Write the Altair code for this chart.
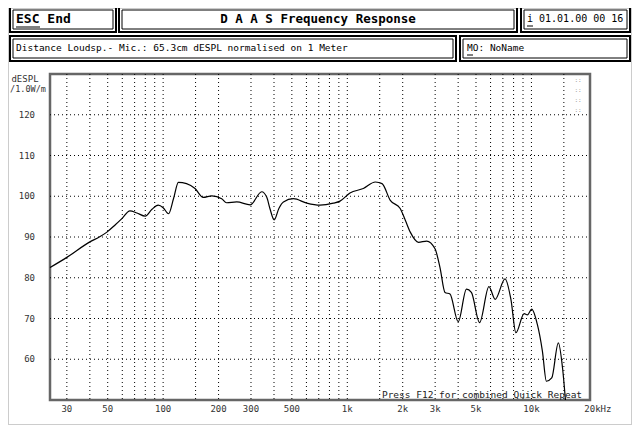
import altair as alt
import pandas as pd

# ---- data ----
freq = [24.3, 30, 40, 45, 49.5, 55, 59.7, 66, 72, 80, 87, 94, 100, 107, 114, 121, 134, 149,
        165, 184, 208, 221, 251, 297, 343, 365, 380, 401, 425, 450, 510, 603, 711, 840, 913,
        1034, 1222, 1421, 1544, 1712, 1938, 2066, 2198, 2436, 2698, 2995, 3188, 3394, 3612,
        4004, 4438, 4720, 5231, 5876, 6355, 7189, 7738, 8236, 9126, 9511, 10040, 10760,
        11470, 12060, 12890, 14000, 14750, 15300]
spl = [82.5, 85.0, 88.8, 90.0, 91.2, 93.0, 94.5, 96.4, 95.9, 95.1, 96.8, 97.8, 97.2, 95.7,
       99.5, 103.4, 103.1, 101.9, 99.7, 100.1, 99.4, 98.4, 98.6, 97.9, 101.1, 99.8, 97.0,
       94.2, 97.0, 98.6, 99.4, 98.3, 97.8, 98.3, 98.8, 100.8, 101.9, 103.5, 103.1, 99.0,
       97.0, 94.1, 91.2, 88.7, 89.0, 87.1, 82.5, 76.4, 76.0, 69.2, 77.2, 76.4, 69.0, 77.8,
       74.7, 79.7, 74.7, 66.5, 71.2, 70.9, 72.3, 68.6, 62.0, 54.6, 55.4, 64.0, 57.9, 50.0]

grid_freqs = [30, 40, 50, 60, 70, 80, 90, 100, 150, 200, 300, 400, 500, 600, 700, 800, 900,
              1000, 1500, 2000, 3000, 4000, 5000, 6000, 7000, 8000, 9000, 10000, 15000]
label_freqs = [30, 50, 100, 200, 300, 500, 1000, 2000, 3000, 5000, 10000]
label_texts = ["30", "50", "100", "200", "300", "500", "1k", "2k", "3k", "5k", "10k"]
last_label_freq = [20000]
last_label_text = ["20kHz"]
y_ticks = [60, 70, 80, 90, 100, 110, 120]

W, H = 540, 326
FONT = "DejaVu Sans Mono"

xscale = alt.Scale(type="log", domain=[24.3, 20800])
yscale = alt.Scale(domain=[50, 130])

curve_df = pd.DataFrame({"f": freq, "db": spl})
grid_df = pd.DataFrame({"f": grid_freqs})
xlab_df = pd.DataFrame({"f": label_freqs, "t": label_texts})
xlast_df = pd.DataFrame({"f": last_label_freq, "t": last_label_text})
ylab_df = pd.DataFrame({"db": y_ticks, "t": [str(v) for v in y_ticks]})

one = alt.Data(values=[{"k": 1}])


def box(x1, x2, y1, y2, sw=2, color="black", dash=None):
    kw = dict(fill="white", fillOpacity=0, stroke=color, strokeWidth=sw)
    if dash:
        kw["strokeDash"] = dash
    return alt.Chart(one).mark_rect(**kw).encode(
        x=alt.value(x1), x2=alt.value(x2), y=alt.value(y1), y2=alt.value(y2))


def dbox(x1, x2, y1, y2):
    return box(x1, x2, y1, y2, 2) + box(x1 + 3, x2 - 3, y1 + 3, y2 - 3, 1)


def label(txt, x, y, size=10, weight="normal", align="left", color="black"):
    return alt.Chart(one).mark_text(text=txt, font=FONT, fontSize=size, fontWeight=weight,
                                    align=align, baseline="middle", color=color).encode(
        x=alt.value(x), y=alt.value(y))


def uline(x1, x2, y):
    return alt.Chart(one).mark_rule(color="black", strokeWidth=1).encode(
        x=alt.value(x1), x2=alt.value(x2), y=alt.value(y))


# grid
vgrid = alt.Chart(grid_df).mark_rule(color="black", strokeWidth=1, strokeDash=[1, 3]).encode(
    x=alt.X("f:Q", scale=xscale, axis=None), y=alt.value(0), y2=alt.value(H))
hgrid = alt.Chart(ylab_df).mark_rule(color="black", strokeWidth=1, strokeDash=[1, 3]).encode(
    y=alt.Y("db:Q", scale=yscale, axis=None), x=alt.value(0), x2=alt.value(W))

curve = alt.Chart(curve_df).mark_line(color="black", strokeWidth=1.2, interpolate="monotone").encode(
    x=alt.X("f:Q", scale=xscale, axis=None), y=alt.Y("db:Q", scale=yscale, axis=None))

xlabels = alt.Chart(xlab_df).mark_text(font=FONT, fontSize=9, color="#333", baseline="middle").encode(
    x=alt.X("f:Q", scale=xscale, axis=None), y=alt.value(335), text="t:N")
xlast = alt.Chart(xlast_df).mark_text(font=FONT, fontSize=9, color="#333", baseline="middle", dx=11).encode(
    x=alt.X("f:Q", scale=xscale, axis=None), y=alt.value(335), text="t:N")
ylabels = alt.Chart(ylab_df).mark_text(font=FONT, fontSize=9, color="#333", align="right",
                                       baseline="middle").encode(
    y=alt.Y("db:Q", scale=yscale, axis=None), x=alt.value(-15), text="t:N")

deco = [
    box(-41.5, 581.5, -65.5, 350.5, 1, "#999", [1, 1]),
    # header row 1
    dbox(-40, 66, -67, -42), dbox(69, 467, -67, -42), dbox(471, 580, -67, -42),
    # header row 2
    dbox(-40, 406, -38, -13), dbox(410, 580, -38, -13),
    label("ESC End", -34, -55, 13, "bold"), uline(-34, -10, -47),
    label("D A A S  Frequency Response", 268, -55, 12.5, "bold", "center"),
    label("i 01.01.00 00 16", 477, -55, 10), uline(477, 483, -48),
    label("Distance Loudsp.- Mic.: 65.3cm dESPL normalised on 1 Meter", -34, -26, 9.5),
    label("MO:  NoName", 417, -26, 9.5), uline(417, 423, -19),
    label("dESPL", -25, 5, 9, align="center", color="#333"),
    label("/1.0W/m", -22, 15, 8.5, align="center", color="#333"),
    label("Press F12 for combined Quick Repeat", 432, 321, 9.5, align="center", color="#222"),
    label("::", 528, 6, 6, align="center", color="#999"),
    label("::", 528, 16, 6, align="center", color="#999"),
    label("::", 528, 26, 6, align="center", color="#999"),
    label("::", 528, 36, 6, align="center", color="#999"),
]

chart = alt.layer(vgrid, hgrid, curve, xlabels, xlast, ylabels, *deco).properties(
    width=W, height=H,
    autosize=alt.AutoSizeParams(type="none"),
    padding={"left": 42, "top": 66, "right": 42, "bottom": 25},
    background="white",
).configure_view(stroke="#666", strokeWidth=2.5)

chart.save("out.html", embed_options={"renderer": "svg", "actions": False})
